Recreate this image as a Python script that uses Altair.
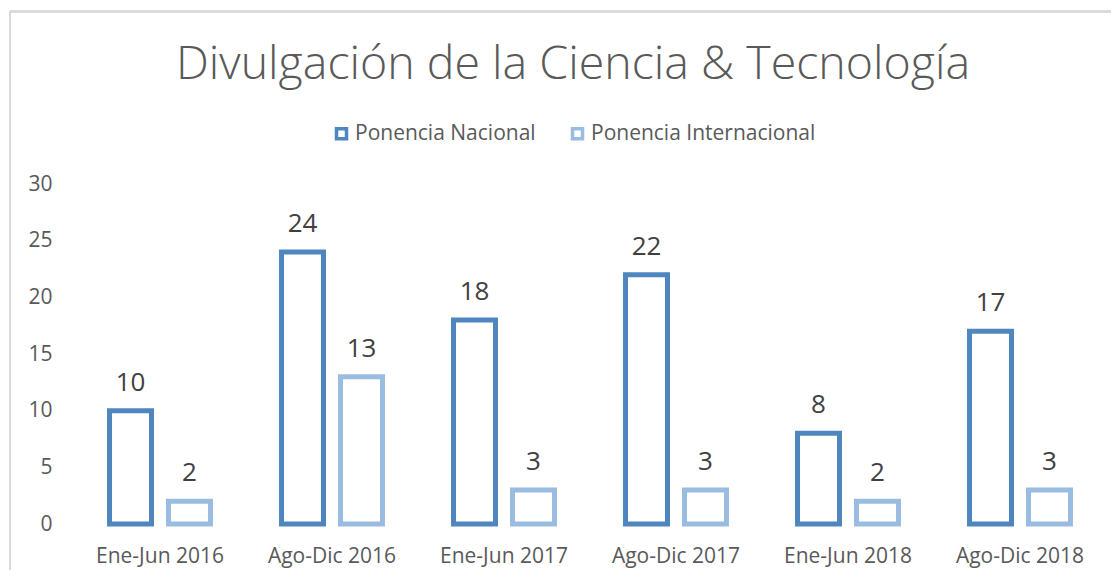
import altair as alt
import pandas as pd

categories = ["Ene-Jun 2016", "Ago-Dic 2016", "Ene-Jun 2017", "Ago-Dic 2017", "Ene-Jun 2018", "Ago-Dic 2018"]
series = ["Ponencia Nacional", "Ponencia Internacional"]
nacional = [10, 24, 18, 22, 8, 17]
internacional = [2, 13, 3, 3, 2, 3]
colors = ["#4F86BD", "#9BBCE1"]

rows = []
for c, n, i in zip(categories, nacional, internacional):
    rows.append({"periodo": c, "serie": series[0], "valor": n})
    rows.append({"periodo": c, "serie": series[1], "valor": i})
df = pd.DataFrame(rows)

FONT = "Open Sans"

x = alt.X("periodo:N", sort=categories, title=None,
          scale=alt.Scale(paddingInner=0.413, paddingOuter=0.2065),
          axis=alt.Axis(labelAngle=0, ticks=False, domain=False, labelPadding=21.5,
                        labelFontSize=21, labelColor="#595959", labelFont=FONT))
xo = alt.XOffset("serie:N", sort=series, scale=alt.Scale(paddingInner=0.288, paddingOuter=0))
y = alt.Y("valor:Q", title=None,
          scale=alt.Scale(domain=[0, 30], nice=False),
          axis=alt.Axis(values=[0, 5, 10, 15, 20, 25, 30], grid=False, domain=False, ticks=False,
                        labelPadding=22, labelFontSize=21, labelColor="#595959", labelFont=FONT))

bars = alt.Chart(df).mark_bar(fill="white", strokeWidth=5).encode(
    x=x, xOffset=xo, y=y,
    stroke=alt.Stroke("serie:N", sort=series,
                      scale=alt.Scale(domain=series, range=colors),
                      legend=alt.Legend(title=None, orient="none", legendX=257, legendY=-61,
                                        direction="horizontal", symbolType="square",
                                        symbolFillColor="white", symbolStrokeWidth=3.5,
                                        symbolSize=100, labelFontSize=21, labelColor="#595959",
                                        labelFont=FONT, columnPadding=29, symbolOffset=0,
                                        labelOffset=3, labelLimit=0)),
)

labels = alt.Chart(df).mark_text(baseline="alphabetic", dy=-20, fontSize=26,
                                 color="#404040", font=FONT).encode(
    x=alt.X("periodo:N", sort=categories), xOffset=alt.XOffset("serie:N", sort=series),
    y="valor:Q", text="valor:Q",
)

border_top = alt.Chart(df).mark_rule(color="#D9D9D9", strokeWidth=1.5).encode(
    x=alt.value(-64), x2=alt.value(1100), y=alt.value(-172.5))
border_left = alt.Chart(df).mark_rule(color="#D9D9D9", strokeWidth=1.5).encode(
    x=alt.value(-64), y=alt.value(-172.5), y2=alt.value(400))

chart = alt.layer(border_top, border_left, bars, labels).properties(
    width=1032, height=340,
    padding={"left": 66, "top": 176, "right": 5, "bottom": 46},
    autosize=alt.AutoSizeParams(type="none"),
    title=alt.TitleParams("Divulgación de la Ciencia & Tecnología", fontSize=46.5,
                          font=FONT, fontWeight=300, color="#595959", anchor="middle",
                          baseline="alphabetic", dx=-17, offset=-115),
).configure_view(stroke=None)

chart.save("out.html", embed_options={"renderer": "svg", "actions": False})
